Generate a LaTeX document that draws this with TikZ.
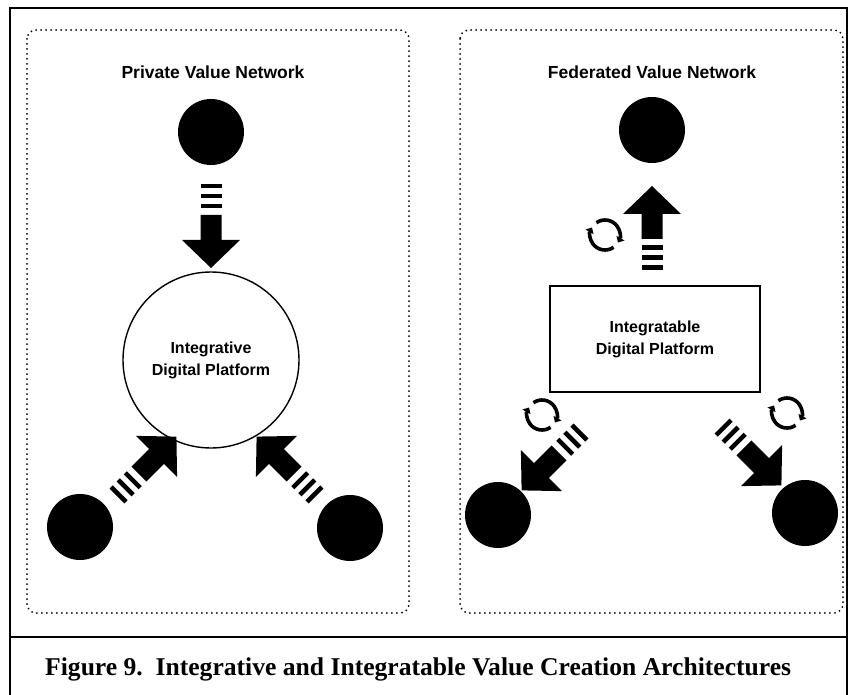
\documentclass[tikz,border=0pt]{standalone}
\usepackage{fontspec}
\setmainfont{Liberation Serif}
\newfontfamily\helv{Liberation Sans}
\usetikzlibrary{arrows.meta,calc}
\newcommand\fatarrow[2]{%
  \pgfmathanglebetweenpoints{\pgfpointanchor{#1}{center}}{\pgfpointanchor{#2}{center}}%
  \edef\fatang{\pgfmathresult}%
  \begin{scope}[shift={(#1)}, rotate=\fatang, x=1pt, y=1pt]
    \fill (0,-10.5) rectangle (4.5,10.5);
    \fill (10,-10.5) rectangle (14.5,10.5);
    \fill (20,-10.5) rectangle (24.5,10.5);
    \fill (31,-10.5) -- (56,-10.5) -- (56,-29) -- (84,0) -- (56,29) -- (56,10.5) -- (31,10.5) -- cycle;
  \end{scope}}
\newcommand\refreshicon[1]{%
  \draw[iconarc] ([shift={(235:15)}]#1) arc[start angle=235, end angle=390, radius=15];
  \draw[iconarc] ([shift={(55:15)}]#1) arc[start angle=55, end angle=210, radius=15];}
\tikzset{
  panel/.style={dash pattern=on 0pt off 5pt, line cap=round, line width=2pt, rounded corners=9pt},
  paneltitle/.style={font=\helv\bfseries\fontsize{17.5}{20}\selectfont},
  dot/.style={circle, fill=black, inner sep=0pt, minimum size=66pt},
  platform/.style={draw, line width=1.4pt, align=center, font=\helv\bfseries\fontsize{16}{22}\selectfont},
  iconarc/.style={line width=3.6pt, -{Triangle[length=5pt,width=9pt]}},
  frame/.style={line width=2.6pt}
}
\begin{document}
\begin{tikzpicture}[x=1pt,y=-1pt]
\useasboundingbox (0,0) rectangle (849,695);
% outer frame
\draw[frame] (10,695) -- (10,8) -- (847,8) -- (847,695);
\draw[frame] (10,637) -- (847,637);
% panels
\draw[panel] (27,30) rectangle (409,613);
\draw[panel] (460,30) rectangle (843,613);
\node[paneltitle] (t1) at (213,72) {Private Value Network};
\node[paneltitle] (t2) at (652,72) {Federated Value Network};
% left panel
\node[dot] (lt) at (211,132) {};
\node[platform, circle, minimum size=176pt] (p1) at (211,360) {Integrative\\Digital Platform};
\node[dot] (lbl) at (80,527) {};
\node[dot] (lbr) at (350,528) {};
\coordinate (a1s) at (211,184); \coordinate (a1e) at (211,268);
\coordinate (a2s) at (117,496); \coordinate (a2e) at (176,437);
\coordinate (a3s) at (316,496); \coordinate (a3e) at (257,437);
\fatarrow{a1s}{a1e}
\fatarrow{a2s}{a2e}
\fatarrow{a3s}{a3e}
% right panel
\node[dot] (rt) at (652,130) {};
\node[platform, minimum width=210pt, minimum height=106pt] (p2) at (655,339) {Integratable\\Digital Platform};
\node[dot] (rbl) at (498,515) {};
\node[dot] (rbr) at (805,513) {};
\coordinate (b1s) at (652,270); \coordinate (b1e) at (652,186);
\coordinate (b2s) at (581,431); \coordinate (b2e) at (522,490);
\coordinate (b3s) at (722,426); \coordinate (b3e) at (781,485);
\fatarrow{b1s}{b1e}
\fatarrow{b2s}{b2e}
\fatarrow{b3s}{b3e}
\coordinate (i1) at (605,235);
\coordinate (i2) at (542,415);
\coordinate (i3) at (787,413);
\refreshicon{i1}
\refreshicon{i2}
\refreshicon{i3}
% caption
\node[font=\bfseries\fontsize{25.6}{28}\selectfont, anchor=base west, inner sep=0pt] (cap) at (45,675) {Figure 9.\ \ Integrative and Integratable Value Creation Architectures};
\end{tikzpicture}
\end{document}
